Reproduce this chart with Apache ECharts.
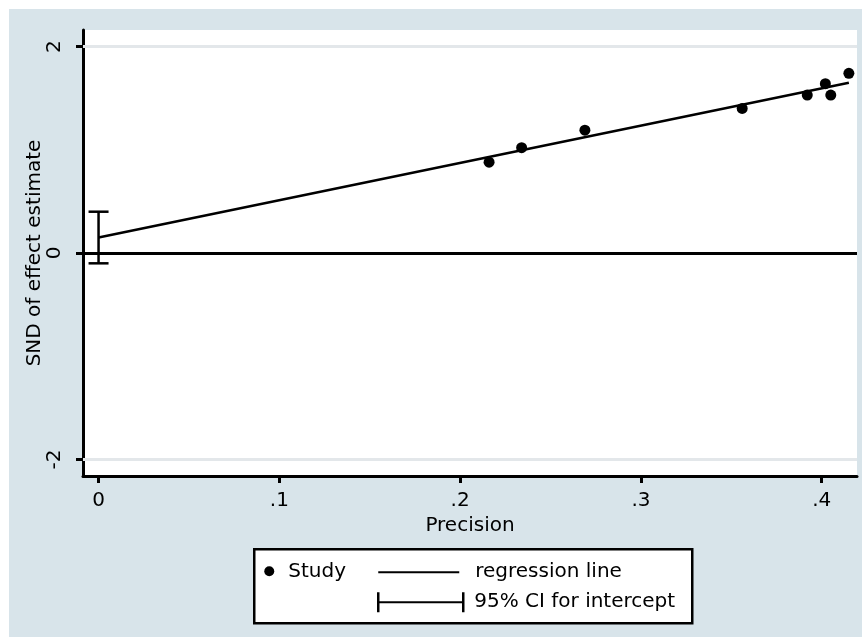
<!DOCTYPE html>
<html>
<head>
<meta charset="utf-8">
<title>Galbraith / Egger regression plot</title>
<script src="https://cdn.jsdelivr.net/npm/echarts@6/dist/echarts.min.js"></script>
<style>
  html, body { margin: 0; padding: 0; background: #ffffff; }
  #chart { position: absolute; left: 9px; top: 9px; width: 853px; height: 628px; }
</style>
</head>
<body>
<div id="chart"></div>
<script>
// Study points: precision (1/SE) against standard normal deviate
const precision = [0.216, 0.234, 0.269, 0.356, 0.392, 0.402, 0.405, 0.415];
const snd       = [0.88, 1.02, 1.19, 1.40, 1.53, 1.64, 1.53, 1.74];

// Fitted regression line end points
const regLineX = [0, 0.415];
const regLineY = [0.15, 1.65];

// 95% confidence interval for the intercept (drawn at precision 0)
const ciAt   = 0;
const ciLow  = -0.10;
const ciHigh = 0.40;

// Axis ticks
const xTickValues = [0, 0.1, 0.2, 0.3, 0.4];
const xTickLabels = ['0', '.1', '.2', '.3', '.4'];
const yTickValues = [-2, 0, 2];
const yTickLabels = ['-2', '0', '2'];
const yGridValues = [-2, 2];

const FONT = 'DejaVu Sans';
const INK = '#000000';

const chart = echarts.init(document.getElementById('chart'));

function labelFor(values, labels) {
  return function (v) {
    for (let i = 0; i < values.length; i++) {
      if (Math.abs(values[i] - v) < 1e-9) return labels[i];
    }
    return '';
  };
}

const option = {
  animation: false,
  backgroundColor: '#d8e4ea',
  textStyle: { fontFamily: FONT, color: INK },
  grid: {
    left: 74, top: 21, right: 5, bottom: 161,
    show: true, backgroundColor: '#ffffff', borderWidth: 0
  },
  xAxis: {
    type: 'value',
    min: -0.0086, max: 0.4195,
    name: 'Precision',
    nameLocation: 'middle',
    nameGap: 35,
    nameTextStyle: { fontFamily: FONT, fontSize: 20, color: INK },
    axisLine: { show: true, onZero: false, lineStyle: { color: INK, width: 3 } },
    axisTick: { show: true, length: 7, lineStyle: { color: INK, width: 3 }, customValues: xTickValues },
    axisLabel: {
      fontFamily: FONT, fontSize: 20, color: INK, margin: 15,
      customValues: xTickValues,
      formatter: labelFor(xTickValues, xTickLabels)
    },
    splitLine: { show: false }
  },
  yAxis: {
    type: 'value',
    min: -2.16, max: 2.16,
    name: 'SND of effect estimate',
    nameLocation: 'middle',
    nameGap: 38,
    nameMoveOverlap: false,
    nameTextStyle: { fontFamily: FONT, fontSize: 20, color: INK },
    axisLine: { show: true, onZero: false, lineStyle: { color: INK, width: 3 } },
    axisTick: { show: true, length: 7, lineStyle: { color: INK, width: 3 }, customValues: yTickValues },
    axisLabel: {
      fontFamily: FONT, fontSize: 20, color: INK, margin: 18, rotate: 90,
      customValues: yTickValues,
      formatter: labelFor(yTickValues, yTickLabels)
    },
    splitLine: { show: false }
  },
  series: [
    {
      // reference lines: light grid at +/-2, black line at zero
      type: 'line',
      data: [],
      silent: true,
      z: 1,
      markLine: {
        silent: true,
        symbol: ['none', 'none'],
        label: { show: false },
        animation: false,
        data: yGridValues.map(v => ({ yAxis: v, lineStyle: { color: '#e3e7ea', width: 3, type: 'solid' } }))
          .concat([{ yAxis: 0, lineStyle: { color: INK, width: 3, type: 'solid' } }])
      }
    },
    {
      name: 'regression line',
      type: 'line',
      data: regLineX.map((x, i) => [x, regLineY[i]]),
      showSymbol: false,
      symbol: 'none',
      lineStyle: { color: INK, width: 2.5 },
      z: 3
    },
    {
      name: '95% CI for intercept',
      type: 'custom',
      z: 3,
      data: [[ciAt, ciLow, ciHigh]],
      encode: { x: 0, y: [1, 2] },
      renderItem: function (params, api) {
        const lo = api.coord([api.value(0), api.value(1)]);
        const hi = api.coord([api.value(0), api.value(2)]);
        const half = 10;
        const style = { stroke: INK, lineWidth: 2.5 };
        return {
          type: 'group',
          children: [
            { type: 'line', shape: { x1: lo[0], y1: lo[1], x2: hi[0], y2: hi[1] }, style: style },
            { type: 'line', shape: { x1: lo[0] - half, y1: lo[1], x2: lo[0] + half, y2: lo[1] }, style: style },
            { type: 'line', shape: { x1: hi[0] - half, y1: hi[1], x2: hi[0] + half, y2: hi[1] }, style: style }
          ]
        };
      }
    },
    {
      name: 'Study',
      type: 'scatter',
      data: precision.map((x, i) => [x, snd[i]]),
      symbol: 'circle',
      symbolSize: 11,
      itemStyle: { color: INK, opacity: 1 },
      z: 4
    }
  ],
  graphic: [
    {
      type: 'group',
      left: 244, top: 539,
      children: [
        { type: 'rect', shape: { x: 0, y: 0, width: 438, height: 74 },
          style: { fill: '#ffffff', stroke: INK, lineWidth: 2.5 } },
        { type: 'circle', shape: { cx: 15, cy: 22, r: 5 }, style: { fill: INK } },
        { type: 'text', x: 34, y: 23,
          style: { text: 'Study', font: '20px "DejaVu Sans"', fill: INK, verticalAlign: 'middle' } },
        { type: 'line', shape: { x1: 124, y1: 23, x2: 205, y2: 23 }, style: { stroke: INK, lineWidth: 2 } },
        { type: 'text', x: 221, y: 23,
          style: { text: 'regression line', font: '20px "DejaVu Sans"', fill: INK, verticalAlign: 'middle' } },
        { type: 'line', shape: { x1: 124, y1: 53, x2: 209, y2: 53 }, style: { stroke: INK, lineWidth: 2 } },
        { type: 'line', shape: { x1: 124, y1: 43, x2: 124, y2: 63 }, style: { stroke: INK, lineWidth: 2.5 } },
        { type: 'line', shape: { x1: 209, y1: 43, x2: 209, y2: 63 }, style: { stroke: INK, lineWidth: 2.5 } },
        { type: 'text', x: 220, y: 53,
          style: { text: '95% CI for intercept', font: '20px "DejaVu Sans"', fill: INK, verticalAlign: 'middle' } }
      ]
    }
  ]
};

chart.setOption(option);
</script>
</body>
</html>
